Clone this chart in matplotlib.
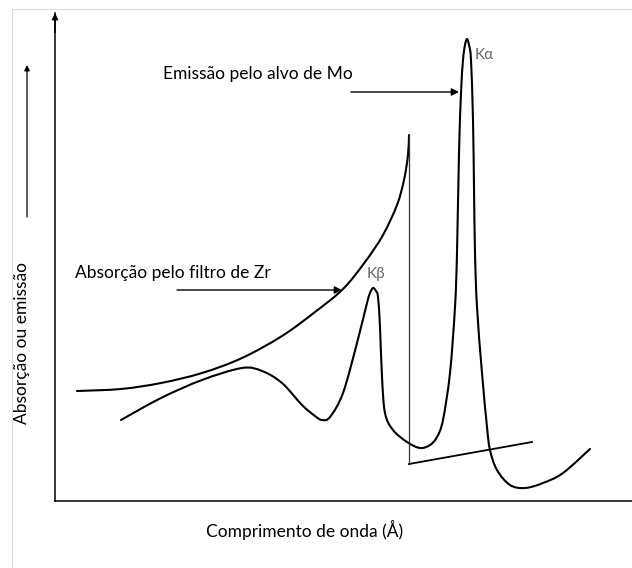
import numpy as np
import matplotlib
matplotlib.use("Agg")
import matplotlib.pyplot as plt
from matplotlib.lines import Line2D
from matplotlib.path import Path
from matplotlib.patches import PathPatch

plt.rcParams["font.family"] = ["Lato", "DejaVu Sans"]

# schematic units: x = wavelength (arbitrary), y = absorption / emission (arbitrary)
emis_x = [66, 106, 147, 187, 207, 227, 247, 260, 267, 275, 288, 302, 312, 315, 318,
          321, 323, 325, 327, 330, 338, 352, 365, 375, 382, 388, 395, 400, 402, 404,
          406, 408, 410, 412, 414, 416, 418, 419, 420, 422, 427, 432, 435, 442, 455,
          470, 488, 508, 535]
emis_y = [81, 103, 121, 133, 130, 118, 96, 85, 81, 84, 108, 158, 198, 208, 213,
          210, 204, 174, 124, 88, 71, 59, 53, 56, 64, 81, 128, 194, 248, 348,
          408, 441, 456, 462, 456, 441, 381, 314, 248, 194, 128, 74, 51, 31, 16,
          13, 18, 28, 52]

abs_x = [22, 66, 106, 147, 187, 227, 260, 288, 310, 328, 342, 349, 353, 354]
abs_y = [110, 112, 118, 128, 143, 165, 189, 212, 239, 266, 296, 321, 346, 366]

edge_x = [354, 354]
edge_y = [366, 37]
base_x = [354, 477]
base_y = [37, 59]


def smooth_path(xs, ys):
    """Catmull-Rom through the points, written as cubic Bezier segments."""
    p = np.column_stack([xs, ys]).astype(float)
    p = np.vstack([p[0], p, p[-1]])
    verts = [p[1]]
    codes = [Path.MOVETO]
    for i in range(1, len(p) - 2):
        c1 = p[i] + (p[i + 1] - p[i - 1]) / 6
        c2 = p[i + 1] - (p[i + 2] - p[i]) / 6
        verts += [c1, c2, p[i + 1]]
        codes += [Path.CURVE4] * 3
    return Path(verts, codes)


fig = plt.figure(figsize=(6.32, 5.68), dpi=100)
ax = fig.add_axes([55 / 632, 67 / 568, 577 / 632, 488 / 568])
ax.set_xlim(0, 577)
ax.set_ylim(0, 488)
for s in ["top", "right"]:
    ax.spines[s].set_visible(False)
for s in ["left", "bottom"]:
    ax.spines[s].set_linewidth(1.1)
ax.set_xticks([]); ax.set_yticks([])
ax.patch.set_alpha(0)

# arrowhead on the y axis
ax.annotate("", xy=(0, 1.0), xytext=(0, 0.96), xycoords="axes fraction",
            arrowprops=dict(arrowstyle="-|>", color="k", lw=1.1,
                            mutation_scale=9, shrinkA=0, shrinkB=0))

for xs, ys in [(abs_x, abs_y), (emis_x, emis_y)]:
    ax.add_patch(PathPatch(smooth_path(xs, ys), fill=False, edgecolor="k", lw=1.5,
                           joinstyle="round", capstyle="round"))
ax.plot(edge_x, edge_y, color="#333", lw=0.9)
ax.plot(base_x, base_y, color="k", lw=1.3)

arrow = dict(arrowstyle="-|>", color="k", lw=1.0, mutation_scale=11,
             shrinkA=0, shrinkB=0)
ax.annotate("", xy=(404, 409), xytext=(296, 409), arrowprops=arrow)
ax.annotate("", xy=(287, 211), xytext=(122, 211), arrowprops=arrow)

ax.text(108, 427, "Emissão pelo alvo de Mo", fontsize=12.5, va="center", ha="left")
ax.text(20, 228, "Absorção pelo filtro de Zr", fontsize=12.5, va="center", ha="left")
ax.text(420, 446, "Kα", fontsize=11, color="#666", va="center", ha="left")
ax.text(312, 227, "Kβ", fontsize=11, color="#666", va="center", ha="left")
ax.text(250, -29, "Comprimento de onda (Å)", fontsize=12.5, va="center", ha="center",
        clip_on=False)

# y label with its own upward arrow
fig.text(22 / 632, 1 - 343 / 568, "Absorção ou emissão", rotation=90, fontsize=12.5,
         va="center", ha="center")
ax.annotate("", xy=(-28, 436), xytext=(-28, 284), xycoords="data",
            arrowprops=dict(arrowstyle="-|>", color="k", lw=0.9, mutation_scale=8,
                            shrinkA=0, shrinkB=0), annotation_clip=False)

# light frame round the drawing
fig.add_artist(Line2D([12 / 632, 12 / 632], [0, 1 - 9 / 568], color="#dcdcdc", lw=0.8))
fig.add_artist(Line2D([12 / 632, 1], [1 - 9 / 568, 1 - 9 / 568], color="#dcdcdc", lw=0.8))

fig.savefig("out.png", dpi=100)
